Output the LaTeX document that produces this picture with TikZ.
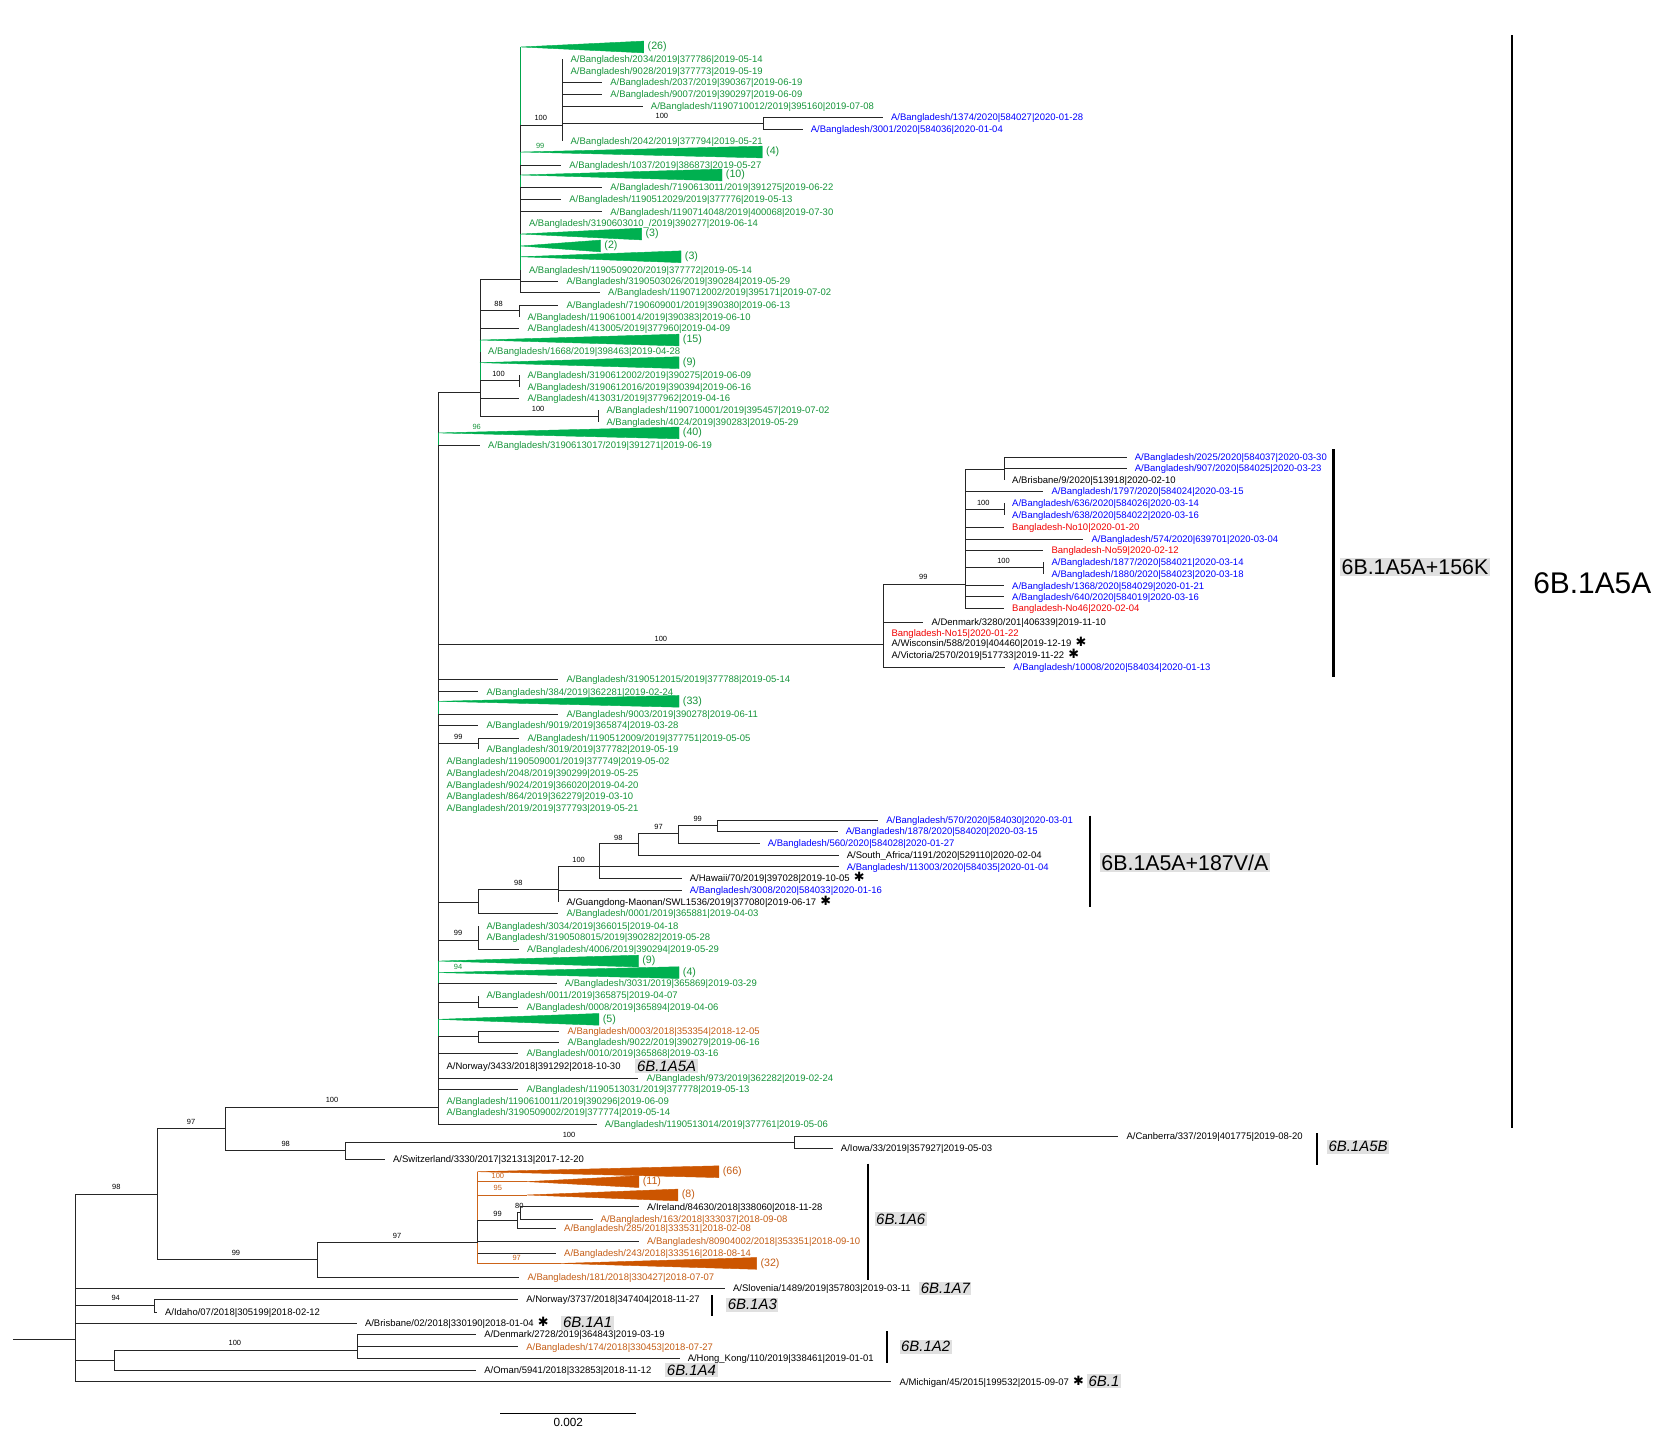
\documentclass[tikz,border=0pt]{standalone}
\usepackage{fontspec}
\setmainfont{Liberation Sans}
\newfontfamily\starfont{DejaVu Sans}
\usetikzlibrary{positioning}

\definecolor{greenfill}{RGB}{0,176,80}
\definecolor{greentext}{RGB}{22,148,58}
\definecolor{greenline}{RGB}{0,165,75}
\definecolor{orangefill}{RGB}{204,85,0}
\definecolor{orangetext}{RGB}{196,92,20}
\definecolor{orangeline}{RGB}{204,100,25}
\definecolor{leafblue}{RGB}{0,0,255}
\definecolor{leafred}{RGB}{240,0,0}
\definecolor{tagbg}{RGB}{224,224,224}

\tikzset{
  branch/.style={draw=black!85, line width=0.8pt},
  leaflabel/.style={anchor=base west, inner sep=0pt, xshift=7.5pt, yshift=-3.1pt,
    font=\fontsize{8.9}{9}\selectfont},
  support/.style={inner sep=0pt, font=\fontsize{7}{7}\selectfont},
  countlabel/.style={anchor=west, inner sep=0pt, xshift=3.5pt, font=\fontsize{10}{10}\selectfont},
  cladebar/.style={line width=2pt},
  cladetag/.style={anchor=west, fill=tagbg, inner sep=1.5pt, font=\fontsize{14}{14}\selectfont\itshape},
  bigtag/.style={anchor=west, fill=tagbg, inner sep=1.5pt, font=\fontsize{20}{20}\selectfont},
}

% leaf: name, parent, x, y, colour, label
\newcommand\leaftip[6]{%
  \coordinate (#1) at (#3,#4);
  \draw[branch] (#2) |- (#1);
  \node[leaflabel, text=#5] (#1-l) at (#1) {#6};}
% collapsed clade: name, parent, apex x, y, end x, size, colour set
\newcommand\cladefan[7]{%
  \coordinate (#1) at (#3,#4);
  \draw[branch, draw=#7line] (#2) |- (#1);
  \filldraw[draw=#7fill, fill=#7fill, line width=0.4pt, line join=round]
    (#1) -- (#5,#4-5.5) -- (#5,#4+5.5) -- cycle;
  \node[countlabel, text=#7text] (#1-l) at (#5,#4) {(#6)};}
\newcommand\astk{\hspace{4pt}{\starfont\fontsize{12}{12}\selectfont\symbol{"2731}}}

\begin{document}
\begin{tikzpicture}[x=1pt, y=-1pt]
\useasboundingbox (0,0) rectangle (1568,1355);

% root and backbone
\coordinate (stem) at (12,1255);
\coordinate (nRoot) at (71,1255);
\draw[branch] (stem) -- (nRoot);
\coordinate (n147) at (147,1119);
\draw[branch] (nRoot) |- (n147);
\node[support] (b147) at (109,1112) {98};
\coordinate (n211) at (211.5,1057);
\draw[branch] (n147) |- (n211);
\node[support] (b211) at (179,1051) {97};
\coordinate (n411) at (410.6,1037);
\draw[branch] (n211) |- (n411);
\node[support] (b411) at (311,1030) {100};

% 6B.1A5A
\coordinate (n450) at (449.6,368);
\draw[branch] (n411) |- (n450);
\coordinate (nA) at (487.8,262);
\draw[branch] (n450) |- (nA);
\cladefan{f26}{nA}{487.8}{44}{603}{26}{green}
\coordinate (nB) at (526.8,117.7);
\draw[branch] (nA) |- (nB);
\node[support] (bB) at (506.5,110.5) {100};
\leaftip{t2034}{nB}{526.8}{55.6}{greentext}{A/Bangladesh/2034/2019|377786|2019-05-14}
\leaftip{t9028}{nB}{526.8}{66.5}{greentext}{A/Bangladesh/9028/2019|377773|2019-05-19}
\leaftip{t2037}{nB}{564}{77.4}{greentext}{A/Bangladesh/2037/2019|390367|2019-06-19}
\leaftip{t9007}{nB}{564}{88}{greentext}{A/Bangladesh/9007/2019|390297|2019-06-09}
\leaftip{t1190710012}{nB}{602}{99.3}{greentext}{A/Bangladesh/1190710012/2019|395160|2019-07-08}
\coordinate (nBlue) at (714.9,115.5);
\draw[branch] (nB) |- (nBlue);
\node[support] (bBlue) at (620,109) {100};
\leaftip{t1374}{nBlue}{827}{110.2}{leafblue}{A/Bangladesh/1374/2020|584027|2020-01-28}
\leaftip{t3001}{nBlue}{751.8}{121.1}{leafblue}{A/Bangladesh/3001/2020|584036|2020-01-04}
\leaftip{t2042}{nB}{526.8}{132.1}{greentext}{A/Bangladesh/2042/2019|377794|2019-05-21}
\cladefan{f4a}{nA}{487.8}{142.4}{714}{4}{green}
\node[support, text=greentext] (bf4a) at (506,136.5) {99};
\leaftip{t1037}{nA}{525.6}{154.6}{greentext}{A/Bangladesh/1037/2019|386873|2019-05-27}
\cladefan{f10}{nA}{487.8}{163.9}{676.3}{10}{green}
\leaftip{t7190613011}{nA}{564}{175.8}{greentext}{A/Bangladesh/7190613011/2019|391275|2019-06-22}
\leaftip{t1190512029}{nA}{525.6}{186.7}{greentext}{A/Bangladesh/1190512029/2019|377776|2019-05-13}
\leaftip{t1190714048}{nA}{564}{198.3}{greentext}{A/Bangladesh/1190714048/2019|400068|2019-07-30}
\leaftip{t3190603010}{nA}{487.8}{208.6}{greentext}{A/Bangladesh/3190603010\_/2019|390277|2019-06-14}
\cladefan{f3a}{nA}{487.8}{219.2}{601}{3}{green}
\cladefan{f2}{nA}{487.8}{230.4}{562.5}{2}{green}
\cladefan{f3b}{nA}{487.8}{240.5}{637.9}{3}{green}
\leaftip{t1190509020}{nA}{487.8}{252.9}{greentext}{A/Bangladesh/1190509020/2019|377772|2019-05-14}
\leaftip{t3190503026}{nA}{523}{263.8}{greentext}{A/Bangladesh/3190503026/2019|390284|2019-05-29}
\leaftip{t1190712002}{nA}{562}{274.1}{greentext}{A/Bangladesh/1190712002/2019|395171|2019-07-02}
\coordinate (n88) at (486.5,291);
\draw[branch] (n450) |- (n88);
\node[support] (b88) at (467,285) {88};
\leaftip{t7190609001}{n88}{523}{285.7}{greentext}{A/Bangladesh/7190609001/2019|390380|2019-06-13}
\leaftip{t1190610014}{n88}{486.5}{297.2}{greentext}{A/Bangladesh/1190610014/2019|390383|2019-06-10}
\leaftip{t413005}{n450}{486.5}{307.5}{greentext}{A/Bangladesh/413005/2019|377960|2019-04-09}
\cladefan{f15}{n450}{449.6}{318.5}{636}{15}{green}
\leaftip{t1668}{n450}{449.6}{329.4}{greentext}{A/Bangladesh/1668/2019|398463|2019-04-28}
\cladefan{f9a}{n450}{449.6}{339.7}{636}{9}{green}
\coordinate (n100a) at (486.5,356.6);
\draw[branch] (n450) |- (n100a);
\node[support] (b100a) at (467,350.5) {100};
\leaftip{t3190612002}{n100a}{486.5}{351.3}{greentext}{A/Bangladesh/3190612002/2019|390275|2019-06-09}
\leaftip{t3190612016}{n100a}{486.5}{362.2}{greentext}{A/Bangladesh/3190612016/2019|390394|2019-06-16}
\leaftip{t413031}{n450}{486.5}{373.1}{greentext}{A/Bangladesh/413031/2019|377962|2019-04-16}
\coordinate (n100b) at (560.4,389.7);
\draw[branch] (n450) |- (n100b);
\node[support] (b100b) at (504,383) {100};
\leaftip{t1190710001}{n100b}{560.4}{384}{greentext}{A/Bangladesh/1190710001/2019|395457|2019-07-02}
\leaftip{t4024}{n100b}{560.4}{395}{greentext}{A/Bangladesh/4024/2019|390283|2019-05-29}
\cladefan{f40}{n411}{410.6}{405.5}{636}{40}{green}
\node[support, text=greentext] (bf40) at (446.5,399.7) {96};
\leaftip{t3190613017}{n411}{449.6}{416.8}{greentext}{A/Bangladesh/3190613017/2019|391271|2019-06-19}

% 6B.1A5A+156K
\coordinate (n827) at (827.4,604);
\draw[branch] (n411) |- (n827);
\node[support] (b827) at (619,598) {100};
\coordinate (n903) at (903.9,547);
\draw[branch] (n827) |- (n903);
\node[support] (b903) at (864.9,540.8) {99};
\coordinate (n940a) at (940.4,440);
\draw[branch] (n903) |- (n940a);
\leaftip{t2025}{n940a}{1055.3}{428}{leafblue}{A/Bangladesh/2025/2020|584037|2020-03-30}
\leaftip{t907}{n940a}{1055.3}{438.7}{leafblue}{A/Bangladesh/907/2020|584025|2020-03-23}
\leaftip{tBris9}{n940a}{940.4}{450}{black}{A/Brisbane/9/2020|513918|2020-02-10}
\leaftip{t1797}{n903}{977.3}{460.5}{leafblue}{A/Bangladesh/1797/2020|584024|2020-03-15}
\coordinate (n940b) at (940.4,477);
\draw[branch] (n903) |- (n940b);
\node[support] (b940b) at (921,471) {100};
\leaftip{t636}{n940b}{940.4}{471.5}{leafblue}{A/Bangladesh/636/2020|584026|2020-03-14}
\leaftip{t638}{n940b}{940.4}{482.4}{leafblue}{A/Bangladesh/638/2020|584022|2020-03-16}
\leaftip{tNo10}{n903}{940.4}{494.2}{leafred}{Bangladesh-No10|2020-01-20}
\leaftip{t574}{n903}{1014.7}{505.1}{leafblue}{A/Bangladesh/574/2020|639701|2020-03-04}
\leaftip{tNo59}{n903}{977.3}{515.1}{leafred}{Bangladesh-No59|2020-02-12}
\coordinate (n977) at (977.3,531.4);
\draw[branch] (n903) |- (n977);
\node[support] (b977) at (940,525) {100};
\leaftip{t1877}{n977}{977.3}{526.7}{leafblue}{A/Bangladesh/1877/2020|584021|2020-03-14}
\leaftip{t1880}{n977}{977.3}{537.7}{leafblue}{A/Bangladesh/1880/2020|584023|2020-03-18}
\leaftip{t1368}{n903}{940.4}{548.6}{leafblue}{A/Bangladesh/1368/2020|584029|2020-01-21}
\leaftip{t640}{n903}{940.4}{558.9}{leafblue}{A/Bangladesh/640/2020|584019|2020-03-16}
\leaftip{tNo46}{n903}{940.4}{569.8}{leafred}{Bangladesh-No46|2020-02-04}
\leaftip{tDen3280}{n827}{864.9}{582.6}{black}{A/Denmark/3280/201|406339|2019-11-10}
\leaftip{tNo15}{n827}{827.4}{593}{leafred}{Bangladesh-No15|2020-01-22}
\leaftip{tWis}{n827}{827.4}{602.4}{black}{A/Wisconsin/588/2019|404460|2019-12-19\astk}
\leaftip{tVic}{n827}{827.4}{614}{black}{A/Victoria/2570/2019|517733|2019-11-22\astk}
\leaftip{t10008}{n827}{941.4}{625.1}{leafblue}{A/Bangladesh/10008/2020|584034|2020-01-13}

% rest of 6B.1A5A
\leaftip{t3190512015}{n411}{523}{636.3}{greentext}{A/Bangladesh/3190512015/2019|377788|2019-05-14}
\leaftip{t384}{n411}{448}{647.9}{greentext}{A/Bangladesh/384/2019|362281|2019-02-24}
\cladefan{f33}{n411}{410.6}{656.9}{636}{33}{green}
\leaftip{t9003}{n411}{523}{669.1}{greentext}{A/Bangladesh/9003/2019|390278|2019-06-11}
\leaftip{t9019}{n411}{448}{679.7}{greentext}{A/Bangladesh/9019/2019|365874|2019-03-28}
\coordinate (n99a) at (448,696.3);
\draw[branch] (n411) |- (n99a);
\node[support] (b99a) at (429.3,690.6) {99};
\leaftip{t1190512009}{n99a}{486.4}{691.6}{greentext}{A/Bangladesh/1190512009/2019|377751|2019-05-05}
\leaftip{t3019}{n99a}{448}{701.9}{greentext}{A/Bangladesh/3019/2019|377782|2019-05-19}
\leaftip{t1190509001}{n411}{410.6}{712.8}{greentext}{A/Bangladesh/1190509001/2019|377749|2019-05-02}
\leaftip{t2048}{n411}{410.6}{724.4}{greentext}{A/Bangladesh/2048/2019|390299|2019-05-25}
\leaftip{t9024}{n411}{410.6}{735.9}{greentext}{A/Bangladesh/9024/2019|366020|2019-04-20}
\leaftip{t864}{n411}{410.6}{746.2}{greentext}{A/Bangladesh/864/2019|362279|2019-03-10}
\leaftip{t2019}{n411}{410.6}{757.2}{greentext}{A/Bangladesh/2019/2019|377793|2019-05-21}

% 6B.1A5A+187V/A
\coordinate (n187) at (448,845.5);
\draw[branch] (n411) |- (n187);
\coordinate (n523) at (523,833);
\draw[branch] (n187) |- (n523);
\node[support] (b523) at (485.5,827) {98};
\coordinate (n561) at (561,811.8);
\draw[branch] (n523) |- (n561);
\node[support] (b561) at (542,805.6) {100};
\coordinate (n598) at (598,790.2);
\draw[branch] (n561) |- (n598);
\node[support] (b598) at (579.2,784.5) {98};
\coordinate (n635) at (635.4,780.6);
\draw[branch] (n598) |- (n635);
\node[support] (b635) at (616.8,774.8) {97};
\coordinate (n672) at (672.2,773.5);
\draw[branch] (n635) |- (n672);
\node[support] (b672) at (653.5,767) {99};
\leaftip{t570}{n672}{822.5}{768}{leafblue}{A/Bangladesh/570/2020|584030|2020-03-01}
\leaftip{t1878}{n672}{784.5}{779}{leafblue}{A/Bangladesh/1878/2020|584020|2020-03-15}
\leaftip{t560}{n635}{711.5}{790}{leafblue}{A/Bangladesh/560/2020|584028|2020-01-27}
\leaftip{tSAf}{n598}{785.5}{800.9}{black}{A/South\_Africa/1191/2020|529110|2020-02-04}
\leaftip{t113003}{n561}{785.5}{811.8}{leafblue}{A/Bangladesh/113003/2020|584035|2020-01-04}
\leaftip{tHawaii}{n561}{638.5}{822.7}{black}{A/Hawaii/70/2019|397028|2019-10-05\astk}
\leaftip{t3008}{n523}{638.5}{833.6}{leafblue}{A/Bangladesh/3008/2020|584033|2020-01-16}
\leaftip{tGuang}{n523}{523}{844.6}{black}{A/Guangdong-Maonan/SWL1536/2019|377080|2019-06-17\astk}
\leaftip{t0001}{n187}{523}{855.5}{greentext}{A/Bangladesh/0001/2019|365881|2019-04-03}

\coordinate (n99b) at (448,880.5);
\draw[branch] (n411) |- (n99b);
\node[support] (b99b) at (429,874) {99};
\leaftip{t3034}{n99b}{448}{867.4}{greentext}{A/Bangladesh/3034/2019|366015|2019-04-18}
\leaftip{t3190508015}{n99b}{448}{878.3}{greentext}{A/Bangladesh/3190508015/2019|390282|2019-05-28}
\leaftip{t4006}{n99b}{486}{889.2}{greentext}{A/Bangladesh/4006/2019|390294|2019-05-29}
\cladefan{f9b}{n411}{410.6}{900.2}{598}{9}{green}
\cladefan{f4b}{n411}{410.6}{911}{636}{4}{green}
\node[support, text=greentext] (bf4b) at (429,905.5) {94};
\leaftip{t3031}{n411}{521.4}{921}{greentext}{A/Bangladesh/3031/2019|365869|2019-03-29}
\coordinate (n0011) at (448,938.9);
\draw[branch] (n411) |- (n0011);
\leaftip{t0011}{n0011}{448}{932.6}{greentext}{A/Bangladesh/0011/2019|365875|2019-04-07}
\leaftip{t0008}{n0011}{485.5}{943.5}{greentext}{A/Bangladesh/0008/2019|365894|2019-04-06}
\cladefan{f5}{n411}{410.6}{954.8}{561}{5}{green}
\coordinate (n0003) at (448,971);
\draw[branch] (n411) |- (n0003);
\leaftip{t0003}{n0003}{524}{966.3}{orangetext}{A/Bangladesh/0003/2018|353354|2018-12-05}
\leaftip{t9022}{n0003}{524}{976.3}{greentext}{A/Bangladesh/9022/2019|390279|2019-06-16}
\leaftip{t0010}{n411}{485.5}{986.6}{greentext}{A/Bangladesh/0010/2019|365868|2019-03-16}
\leaftip{tNor3433}{n411}{410.6}{998.5}{black}{A/Norway/3433/2018|391292|2018-10-30}
\leaftip{t973}{n411}{597.9}{1010}{greentext}{A/Bangladesh/973/2019|362282|2019-02-24}
\leaftip{t1190513031}{n411}{485.5}{1020}{greentext}{A/Bangladesh/1190513031/2019|377778|2019-05-13}
\leaftip{t1190610011}{n411}{410.6}{1031.3}{greentext}{A/Bangladesh/1190610011/2019|390296|2019-06-09}
\leaftip{t3190509002}{n411}{410.6}{1042.2}{greentext}{A/Bangladesh/3190509002/2019|377774|2019-05-14}
\leaftip{t1190513014}{n411}{558.9}{1053.1}{greentext}{A/Bangladesh/1190513014/2019|377761|2019-05-06}

% 6B.1A5B and Switzerland
\coordinate (n324) at (324,1078);
\draw[branch] (n211) |- (n324);
\node[support] (b324) at (267.6,1071.6) {98};
\coordinate (n745) at (744.5,1070);
\draw[branch] (n324) |- (n745);
\node[support] (b745) at (533,1063.5) {100};
\leaftip{tCanb}{n745}{1047.5}{1064}{black}{A/Canberra/337/2019|401775|2019-08-20}
\leaftip{tIowa}{n745}{780}{1075.5}{black}{A/Iowa/33/2019|357927|2019-05-03}
\leaftip{tSwi}{n324}{360.5}{1086}{black}{A/Switzerland/3330/2017|321313|2017-12-20}

% 6B.1A6
\coordinate (n298) at (297.6,1180);
\draw[branch] (n147) |- (n298);
\node[support] (b298) at (221,1173.5) {99};
\coordinate (n447) at (447.4,1164);
\draw[branch] (n298) |- (n447);
\node[support] (b447) at (372,1158) {97};
\cladefan{f66}{n447}{447.4}{1097.5}{673.3}{66}{orange}
\cladefan{f11}{n447}{493.6}{1106.8}{598.4}{11}{orange}
\node[support, text=orangetext] (bf11) at (466.3,1101) {100};
\cladefan{f8}{n447}{493.6}{1119.3}{635}{8}{orange}
\node[support, text=orangetext] (bf8) at (466.3,1113) {95};
\coordinate (n485) at (485,1143);
\draw[branch] (n447) |- (n485);
\node[support] (b485) at (466,1137.5) {99};
\coordinate (n488) at (487,1136);
\draw[branch] (n485) |- (n488);
\node[support] (b488) at (486.5,1129.5) {80};
\leaftip{tIre}{n488}{598.4}{1130.3}{black}{A/Ireland/84630/2018|338060|2018-11-28}
\leaftip{t163}{n488}{555}{1141.8}{orangetext}{A/Bangladesh/163/2018|333037|2018-09-08}
\leaftip{t285}{n485}{520.8}{1150.6}{orangetext}{A/Bangladesh/285/2018|333531|2018-02-08}
\leaftip{t80904002}{n447}{598.4}{1163}{orangetext}{A/Bangladesh/80904002/2018|353351|2018-09-10}
\leaftip{t243}{n447}{520.8}{1174}{orangetext}{A/Bangladesh/243/2018|333516|2018-08-14}
\cladefan{f32}{n447}{525.5}{1183.4}{708.7}{32}{orange}
\node[support, text=orangetext] (bf32) at (484,1178.5) {97};
\leaftip{t181}{n298}{486.5}{1196.4}{orangetext}{A/Bangladesh/181/2018|330427|2018-07-07}

% basal lineages
\leaftip{tSlo}{nRoot}{679}{1206.8}{black}{A/Slovenia/1489/2019|357803|2019-03-11}
\coordinate (n145) at (144.6,1222.4);
\draw[branch] (nRoot) |- (n145);
\node[support] (b145) at (108.4,1216) {94};
\leaftip{tNor3737}{n145}{485.3}{1216.7}{black}{A/Norway/3737/2018|347404|2018-11-27}
\leaftip{tIdaho}{n145}{146.9}{1229.3}{black}{A/Idaho/07/2018|305199|2018-02-12}
\leaftip{tBris02}{nRoot}{334.2}{1239.5}{black}{A/Brisbane/02/2018|330190|2018-01-04\astk}
\coordinate (n107) at (107,1274);
\draw[branch] (nRoot) |- (n107);
\coordinate (n335) at (335,1264.5);
\draw[branch] (n107) |- (n335);
\node[support] (b335) at (220,1258.3) {100};
\leaftip{tDen2728}{n335}{445.9}{1249.6}{black}{A/Denmark/2728/2019|364843|2019-03-19}
\leaftip{t174}{n335}{485.3}{1261.4}{orangetext}{A/Bangladesh/174/2018|330453|2018-07-27}
\leaftip{tHK}{n335}{636.5}{1272.6}{black}{A/Hong\_Kong/110/2019|338461|2019-01-01}
\leaftip{tOman}{n107}{446}{1283.3}{black}{A/Oman/5941/2018|332853|2018-11-12}
\leaftip{tMich}{nRoot}{835}{1294.2}{black}{A/Michigan/45/2015|199532|2015-09-07\astk}

% clade bars and tags
\draw[cladebar] (1416,33) -- (1416,1057);
\node[anchor=west, inner sep=0pt, font=\fontsize{28}{28}\selectfont] (g5A) at (1436,546) {6B.1A5A};
\draw[cladebar] (1249,421) -- (1249,634);
\node[bigtag] (g156K) at (1255,531) {6B.1A5A+156K};
\draw[cladebar] (1021,764) -- (1021,850);
\node[bigtag] (g187) at (1030,808) {6B.1A5A+187V/A};
\draw[cladebar] (1233.3,1061.5) -- (1233.3,1091);
\node[cladetag] (g5B) at (1242.7,1074) {6B.1A5B};
\draw[cladebar] (813,1090) -- (813,1199);
\node[cladetag] (gA6) at (819,1142) {6B.1A6};
\draw[cladebar] (667,1213) -- (667,1233);
\node[cladetag] (gA3) at (680,1222) {6B.1A3};
\draw[cladebar] (831,1247) -- (831,1277);
\node[cladetag] (gA2) at (842.4,1261.4) {6B.1A2};
\node[cladetag] (g5Aleaf) at (595,998.5) {6B.1A5A};
\node[cladetag] (gA7) at (860.8,1206.8) {6B.1A7};
\node[cladetag] (gA1) at (525.7,1239) {6B.1A1};
\node[cladetag] (gA4) at (623,1283.3) {6B.1A4};
\node[cladetag] (gB1) at (1018,1293.5) {6B.1};

% scale bar
\coordinate (sbL) at (468.5,1324);
\coordinate (sbR) at (596,1324);
\draw[line width=0.8pt] (sbL) -- coordinate (sbM) (sbR);
\node[below=4pt of sbM, inner sep=0pt, font=\fontsize{11}{11}\selectfont] (sbT) {0.002};
\end{tikzpicture}
\end{document}
